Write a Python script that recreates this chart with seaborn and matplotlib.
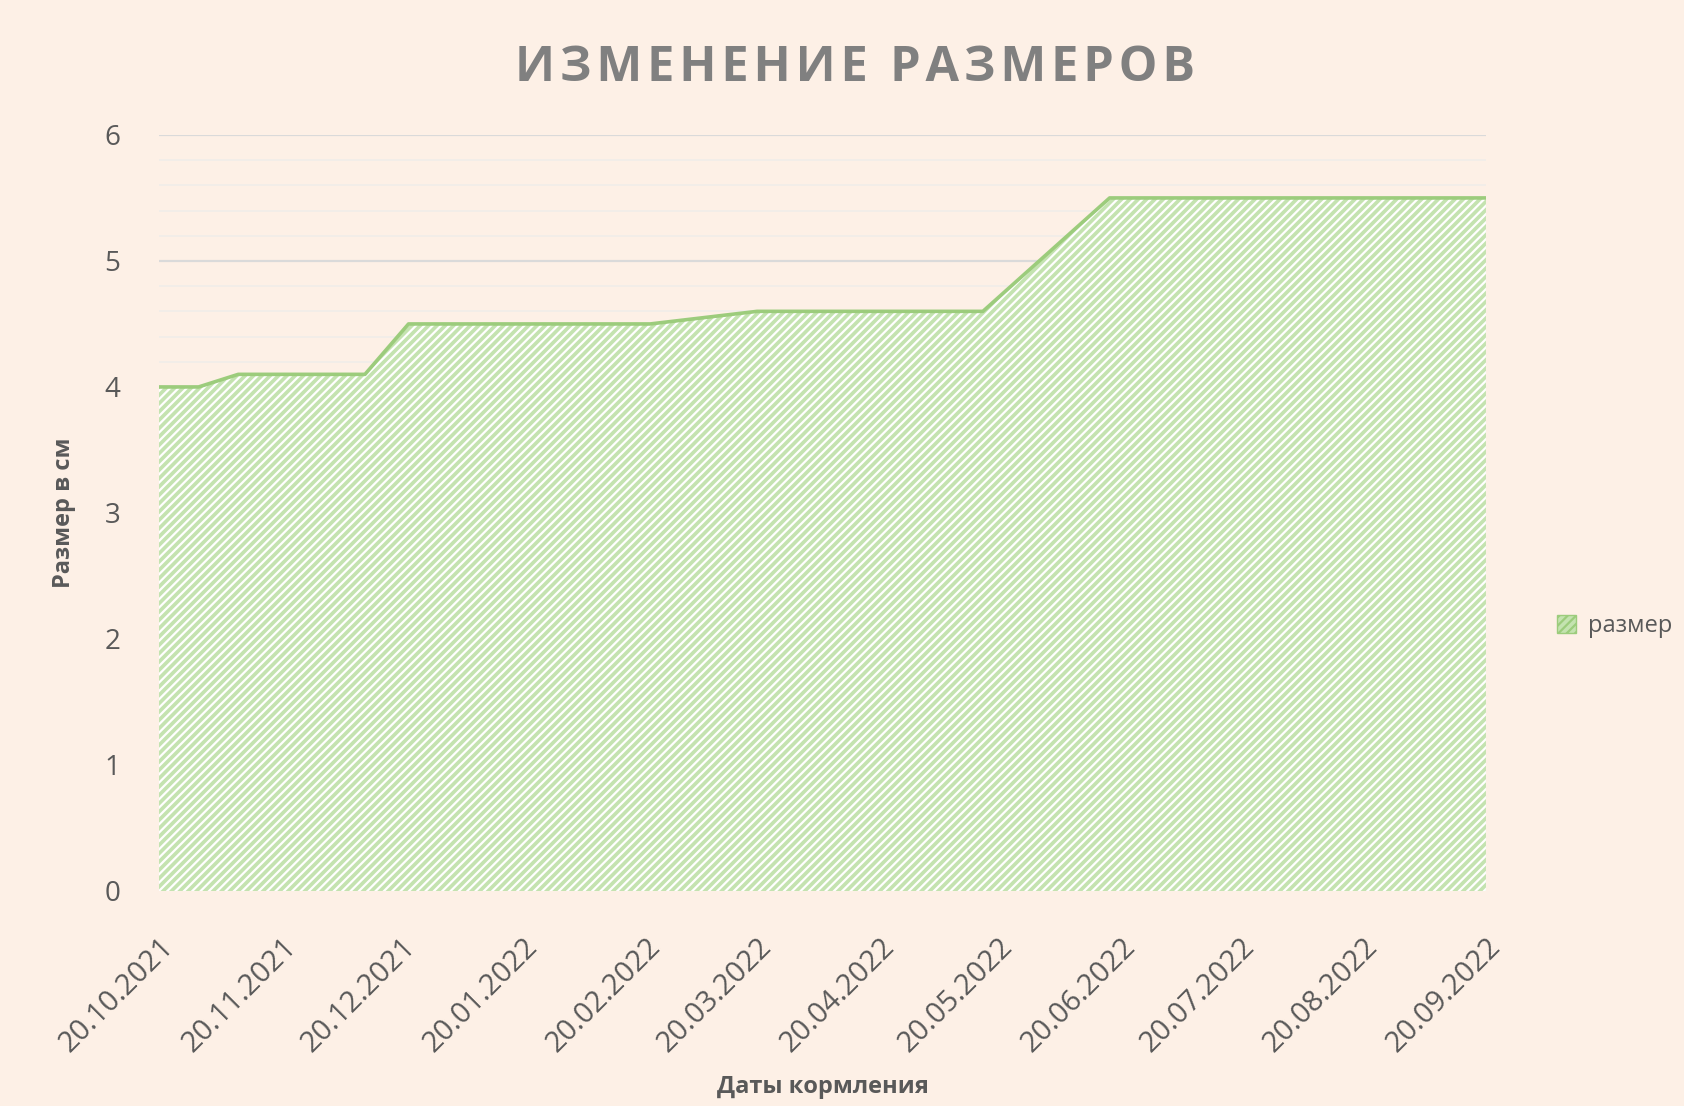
import seaborn as sns
import pandas as pd
import matplotlib.pyplot as plt
import matplotlib.dates as mdates
from matplotlib.patches import Patch
from matplotlib.ticker import MultipleLocator

# feeding dates and measured size (cm)
dates = ["20.10.2021", "30.10.2021", "09.11.2021", "11.12.2021", "22.12.2021",
         "21.02.2022", "20.03.2022", "16.05.2022", "17.06.2022", "20.09.2022"]
sizes = [4.0, 4.0, 4.1, 4.1, 4.5, 4.5, 4.6, 4.6, 5.5, 5.5]
tick_dates = ["20.10.2021", "20.11.2021", "20.12.2021", "20.01.2022", "20.02.2022",
              "20.03.2022", "20.04.2022", "20.05.2022", "20.06.2022", "20.07.2022",
              "20.08.2022", "20.09.2022"]
series_name = "размер"
title = "ИЗМЕНЕНИЕ РАЗМЕРОВ"

bg = "#fdf0e6"
txt = "#595959"
fill = "#c4e3b0"
edge = "#9ccc7c"

df = pd.DataFrame({"date": pd.to_datetime(dates, format="%d.%m.%Y"), "size": sizes})
ticks = pd.to_datetime(tick_dates, format="%d.%m.%Y")

sns.set_theme(style="white")
plt.rcParams["font.family"] = ["Open Sans", "DejaVu Sans"]
plt.rcParams["hatch.color"] = "#66a842"
plt.rcParams["hatch.linewidth"] = 1.6

fig = plt.figure(figsize=(16.84, 11.06), dpi=100, facecolor=bg)
ax = fig.add_axes([0.0944, 0.1944, 0.788, 0.6836])
ax.set_facecolor(bg)

# grid
ax.yaxis.set_major_locator(MultipleLocator(1))
ax.yaxis.set_minor_locator(MultipleLocator(0.2))
ax.grid(which="major", axis="y", color="#dadada", linewidth=1.6, zorder=0)
ax.grid(which="minor", axis="y", color="#f2ede9", linewidth=1.4, zorder=0)
ax.set_axisbelow(True)

ax.fill_between(df["date"], 0, df["size"], facecolor=fill, edgecolor="none",
                hatch="////", zorder=2)
sns.lineplot(data=df, x="date", y="size", ax=ax, color=edge, linewidth=2.6,
             zorder=3, legend=False)

ax.set_xlim(df["date"].iloc[0], df["date"].iloc[-1])
ax.set_ylim(0, 6)
ax.set_xticks(ticks)
ax.xaxis.set_major_formatter(mdates.DateFormatter("%d.%m.%Y"))
for lbl in ax.get_xticklabels():
    lbl.set_rotation(45)
    lbl.set_ha("right")
    lbl.set_rotation_mode("anchor")
ax.tick_params(axis="x", length=0, pad=30, labelsize=21, labelcolor=txt)
ax.tick_params(axis="y", which="both", length=0, pad=28, labelsize=20, labelcolor=txt)
for s in ax.spines.values():
    s.set_visible(False)

ax.set_xlabel("Даты кормления", fontsize=17, fontweight="bold", color=txt, labelpad=12)
ax.set_ylabel("Размер в см", fontsize=17, fontweight="bold", color=txt, labelpad=20)

fig.text(0.508, 0.938, "\u200a".join(title), ha="center", va="center",
         fontsize=35, fontweight="bold", color="#808080")

handle = Patch(facecolor=fill, edgecolor=edge, hatch="////")
fig.legend([handle], [series_name], loc="center left", bbox_to_anchor=(0.912, 0.434),
           frameon=False, fontsize=17, handlelength=0.8, handleheight=0.8,
           handletextpad=0.5, labelcolor=txt)

fig.savefig("out.png", dpi=100, facecolor=bg)
